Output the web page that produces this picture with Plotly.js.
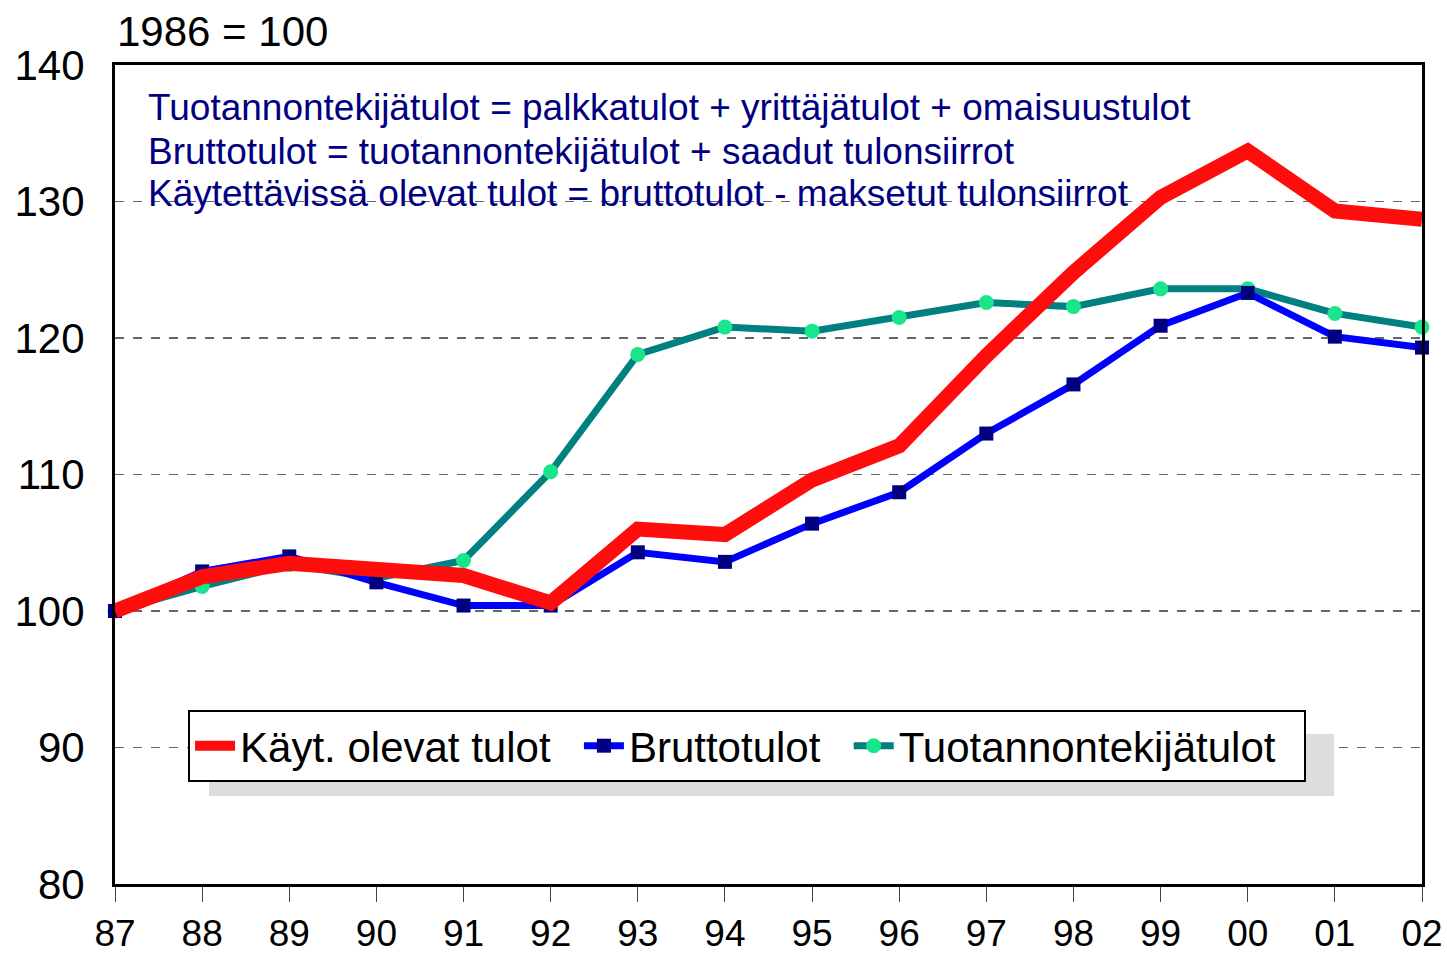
<!DOCTYPE html>
<html>
<head>
<meta charset="utf-8">
<script src="https://cdn.plot.ly/plotly-3.0.1.min.js"></script>
<style>html,body{margin:0;padding:0;background:#fff;}#chart{width:1447px;height:957px;}</style>
</head>
<body>
<div id="chart"></div>
<script>
const years = ["87","88","89","90","91","92","93","94","95","96","97","98","99","00","01","02"];
const kaytettavissa = [100,102.5,103.5,103.1,102.6,100.6,106.0,105.6,109.6,112.1,118.7,124.8,130.3,133.7,129.3,128.7];
const bruttotulot = [100,102.9,104.0,102.1,100.4,100.4,104.3,103.6,106.4,108.7,113.0,116.6,120.9,123.3,120.1,119.3];
const tuotannontekija = [100,101.8,103.4,102.4,103.7,110.2,118.8,120.8,120.5,121.5,122.6,122.3,123.6,123.6,121.8,120.8];
const seriesNames = ["Käyt. olevat tulot","Bruttotulot","Tuotannontekijätulot"];
const noteLines = [
  "Tuotannontekijätulot = palkkatulot + yrittäjätulot + omaisuustulot",
  "Bruttotulot = tuotannontekijätulot + saadut tulonsiirrot",
  "Käytettävissä olevat tulot = bruttotulot - maksetut tulonsiirrot"
];
const baseLabel = "1986 = 100";

const xi = years.map((_, i) => i);
const FONT = "Liberation Sans, Arial, sans-serif";
const PAD = "\u00A0\u00A0";

const traces = [
  {x: xi, y: tuotannontekija, name: seriesNames[2] + PAD, type: "scatter", mode: "lines+markers",
   line: {color: "#008080", width: 7}, marker: {symbol: "circle", size: 15, color: "#19E68C"}, cliponaxis: false},
  {x: xi, y: bruttotulot, name: seriesNames[1] + PAD, type: "scatter", mode: "lines+markers",
   line: {color: "#0000FF", width: 7}, marker: {symbol: "square", size: 14, color: "#000080"}, cliponaxis: false},
  {x: xi, y: kaytettavissa, name: seriesNames[0] + PAD, type: "scatter", mode: "lines",
   line: {color: "#FF0D0D", width: 15}, cliponaxis: true}
];

const annotations = [
  {text: baseLabel, xref: "paper", yref: "paper", x: 0, y: 1.0415, xanchor: "left", yanchor: "middle",
   showarrow: false, font: {family: FONT, size: 42, color: "#000"}}
];
const ys = [0.9487, 0.8938, 0.8425];
noteLines.forEach((t, i) => annotations.push({
  text: t, xref: "paper", yref: "paper", x: 0.0235, y: ys[i], xanchor: "left", yanchor: "middle",
  showarrow: false, font: {family: FONT, size: 37, color: "#000080"}
}));

const layout = {
  width: 1447, height: 957,
  margin: {l: 115, r: 25, t: 65, b: 73},
  paper_bgcolor: "#fff", plot_bgcolor: "#fff",
  font: {family: FONT, size: 40, color: "#000"},
  showlegend: true,
  legend: {orientation: "h", x: 0.0559, y: 0.2126, xanchor: "left", yanchor: "top",
    bgcolor: "#fff", bordercolor: "#000", borderwidth: 2, traceorder: "reversed",
    font: {family: FONT, size: 42, color: "#000"}, itemwidth: 40},
  xaxis: {range: [0, 15], tickvals: xi, ticktext: years, showgrid: false, zeroline: false,
    showline: true, linecolor: "#000", linewidth: 3, mirror: true,
    ticks: "outside", ticklen: 15, tickcolor: "#444", tickwidth: 1,
    tickfont: {family: FONT, size: 37}, fixedrange: true},
  yaxis: {range: [80, 140], tickvals: [80,90,100,110,120,130,140], showgrid: true,
    gridcolor: "#666", gridwidth: 1.5, griddash: "dash", zeroline: false,
    showline: true, linecolor: "#000", linewidth: 3, mirror: true, ticks: "",
    ticklabelstandoff: 19, tickfont: {family: FONT, size: 42}, fixedrange: true},
  shapes: [
    {type: "rect", xref: "paper", yref: "paper", x0: 0.0719, x1: 0.9327, y0: 0.1074, y1: 0.1832,
     fillcolor: "#dddddd", line: {width: 0}, layer: "above"}
  ],
  annotations: annotations
};

Plotly.newPlot("chart", traces, layout, {displayModeBar: false, staticPlot: true});
</script>
</body>
</html>
